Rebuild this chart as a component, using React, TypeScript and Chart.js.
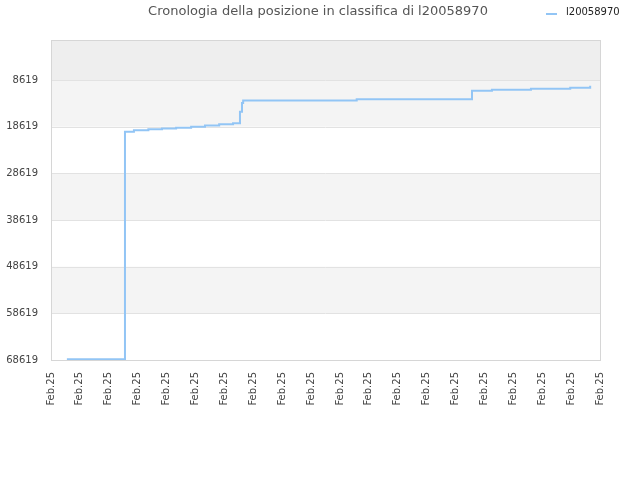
import React, { FC, useEffect, useRef } from 'react'
import Chart from 'chart.js/auto'

const TITLE = 'Cronologia della posizione in classifica di l20058970'
const SERIES_NAME = 'l20058970'

// x positions are measured in tick units (20 ticks, all labelled "Feb.25")
const tickLabels = Array.from({ length: 20 }, () => 'Feb.25')
const xPos = [0.55, 2.56, 2.87, 3.37, 3.84, 4.33, 4.85, 5.33, 5.82, 6.3, 6.54, 6.61, 6.65, 10.58, 14.57, 15.26, 16.61, 17.97, 18.66]
const rank = [68450, 19650, 19350, 19140, 19000, 18790, 18580, 18360, 18070, 17850, 15400, 13500, 13000, 12710, 10860, 10650, 10440, 10220, 9790]
const yTicks = [8619, 18619, 28619, 38619, 48619, 58619, 68619]

const FONT = 'DejaVu Sans'
const LINE_COLOR = '#92c5f5'

const App: FC = () => {
  const chartRef = useRef<HTMLCanvasElement>(null)
  const chartInstanceRef = useRef<Chart | null>(null)

  useEffect(() => {
    document.body.style.margin = '0'
    if (!chartRef.current) return
    const ctx = chartRef.current.getContext('2d')
    if (!ctx) return

    if (chartInstanceRef.current) {
      chartInstanceRef.current.destroy()
    }

    const bands = {
      id: 'bands',
      beforeDatasetsDraw(chart: any) {
        const { ctx, chartArea } = chart
        const y = chart.scales.y
        const edges = [0, ...yTicks]
        const fills = ['#eeeeee', '#f4f4f4', '#ffffff', '#f4f4f4', '#ffffff', '#f4f4f4', '#ffffff']
        ctx.save()
        for (let i = 0; i < edges.length - 1; i++) {
          const top = y.getPixelForValue(edges[i])
          const bottom = y.getPixelForValue(edges[i + 1])
          ctx.fillStyle = fills[i]
          ctx.fillRect(chartArea.left, top, chartArea.right - chartArea.left, bottom - top)
        }
        ctx.strokeStyle = '#e2e2e2'
        ctx.lineWidth = 1
        yTicks.forEach((t) => {
          const py = Math.round(y.getPixelForValue(t)) + 0.5
          ctx.beginPath()
          ctx.moveTo(chartArea.left, py)
          ctx.lineTo(chartArea.right, py)
          ctx.stroke()
        })
        ctx.strokeStyle = '#d6d6d6'
        ctx.strokeRect(chartArea.left + 0.5, chartArea.top + 0.5, chartArea.right - chartArea.left, chartArea.bottom - chartArea.top)
        ctx.restore()
      },
      afterDraw(chart: any) {
        const { ctx } = chart
        ctx.save()
        ctx.textBaseline = 'middle'
        ctx.font = `13px "${FONT}"`
        ctx.fillStyle = '#555555'
        ctx.textAlign = 'center'
        ctx.fillText(TITLE, 318, 12)
        ctx.strokeStyle = LINE_COLOR
        ctx.lineWidth = 2
        ctx.beginPath()
        ctx.moveTo(546, 14)
        ctx.lineTo(557, 14)
        ctx.stroke()
        ctx.font = `10px "${FONT}"`
        ctx.fillStyle = '#222222'
        ctx.textAlign = 'left'
        ctx.fillText(SERIES_NAME, 566, 12)
        ctx.restore()
      },
    }

    chartInstanceRef.current = new Chart(ctx, {
      type: 'line',
      data: {
        datasets: [
          {
            label: SERIES_NAME,
            data: xPos.map((x, i) => ({ x, y: rank[i] })),
            borderColor: LINE_COLOR,
            borderWidth: 2,
            pointRadius: 0,
            stepped: true,
            fill: false,
          },
        ],
      },
      options: {
        responsive: false,
        animation: false,
        devicePixelRatio: 1,
        layout: { padding: { top: 40, right: 40, left: 0, bottom: 0 } },
        plugins: {
          legend: { display: false },
          title: { display: false },
          tooltip: { enabled: false },
        },
        scales: {
          x: {
            type: 'linear',
            min: 0,
            max: tickLabels.length - 1,
            grid: { display: false, drawTicks: false },
            border: { display: false },
            afterBuildTicks: (scale: any) => {
              scale.ticks = tickLabels.map((_, i) => ({ value: i }))
            },
            afterFit: (scale: any) => {
              scale.height = 120
            },
            ticks: {
              autoSkip: false,
              maxRotation: 90,
              minRotation: 90,
              padding: 12,
              color: '#444444',
              font: { family: FONT, size: 10 },
              callback: (v: any) => tickLabels[Math.round(Number(v))] ?? '',
            },
          },
          y: {
            type: 'linear',
            reverse: true,
            min: 0,
            max: 68619,
            grid: { display: false, drawTicks: false },
            border: { display: false },
            afterBuildTicks: (scale: any) => {
              scale.ticks = yTicks.map((value) => ({ value }))
            },
            afterFit: (scale: any) => {
              scale.width = 51
            },
            ticks: {
              padding: 13,
              color: '#444444',
              font: { family: FONT, size: 10 },
              callback: (v: any) => String(v),
            },
          },
        },
      },
      plugins: [bands],
    } as any)

    return () => {
      if (chartInstanceRef.current) {
        chartInstanceRef.current.destroy()
        chartInstanceRef.current = null
      }
    }
  }, [])

  return (
    <div style={{ width: 640, height: 480, background: '#ffffff' }}>
      <canvas ref={chartRef} width={640} height={480}></canvas>
    </div>
  )
}

export default App
